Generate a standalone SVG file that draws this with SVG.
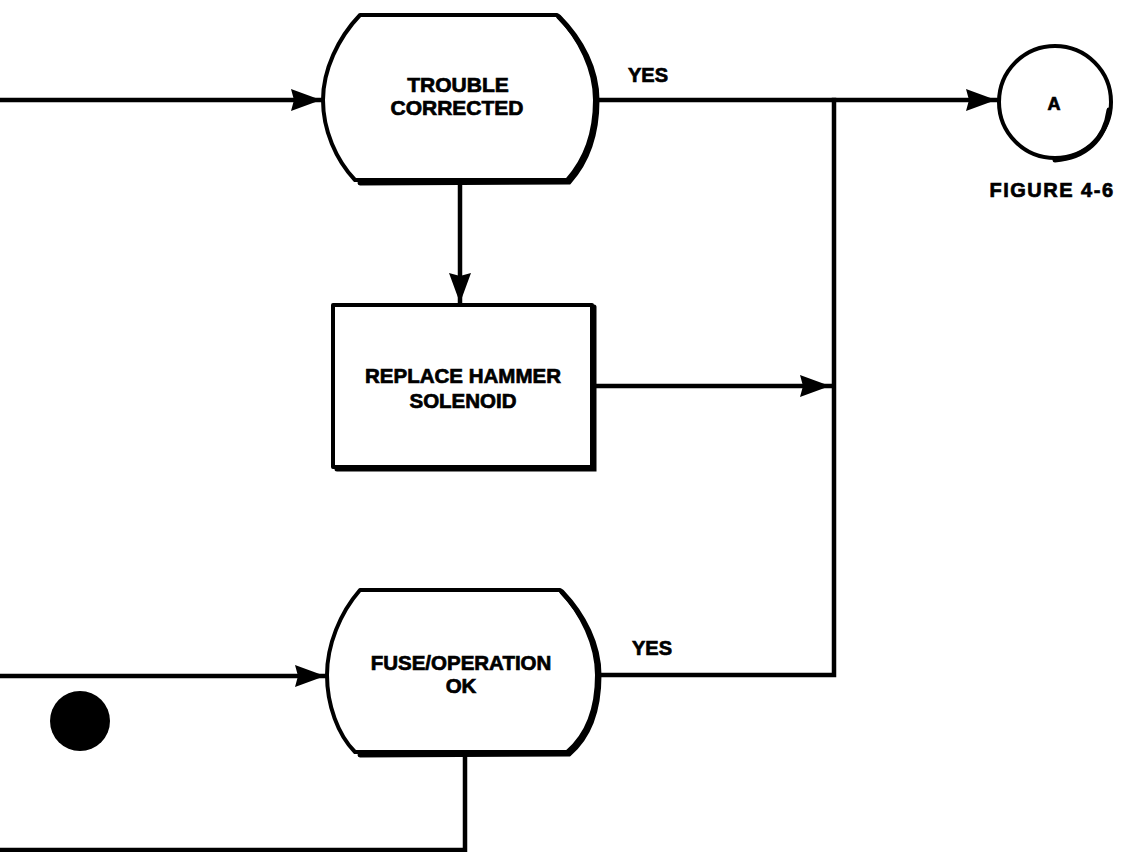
<svg xmlns="http://www.w3.org/2000/svg" width="1123" height="852" viewBox="0 0 1123 852">
<style>
.ln{fill:none;stroke:#000;stroke-width:4.5;stroke-linecap:square}
.shp{fill:#fff;stroke:#000;stroke-width:4;stroke-linejoin:round}
.shd{fill:none;stroke:#000;stroke-width:5;stroke-linecap:round}
.t{font-family:"Liberation Sans",Arial,sans-serif;font-weight:bold;fill:#000;stroke:#000;stroke-width:0.7;text-anchor:middle}
</style>
<defs>
<marker id="ah" markerUnits="userSpaceOnUse" markerWidth="32" markerHeight="24" refX="30" refY="11" orient="auto">
<path d="M0,0 L30,11 L0,22 L3,11 Z" fill="#000"/>
</marker>
</defs>
<rect width="1123" height="852" fill="#fff"/>
<g id="connectors">
<line class="ln" x1="0" y1="100" x2="321" y2="100" marker-end="url(#ah)"/>
<line class="ln" x1="597" y1="100" x2="996" y2="100" marker-end="url(#ah)"/>
<line class="ln" x1="460" y1="184" x2="460" y2="303" marker-end="url(#ah)"/>
<line class="ln" x1="596" y1="386" x2="830" y2="386" marker-end="url(#ah)"/>
<polyline class="ln" points="834,100 834,675 600,675"/>
<line class="ln" x1="0" y1="676" x2="325" y2="676" marker-end="url(#ah)"/>
<polyline class="ln" points="0,850 465,850 465,755"/>
</g>
<g id="trouble">
<path class="shp" d="M360,15 L557,15 C580,38 595,70 595,100 C595,135 585,160 567,180 L355,180 C336,160 323,130 323,100 C323,70 338,38 360,15 Z"/>
<path class="shd" d="M559,17 C582,40 597,70 597,100 C597,135 587,162 569,182 L360,183"/>
<text class="t" x="458" y="92" font-size="21">TROUBLE</text>
<text class="t" x="457" y="115" font-size="21">CORRECTED</text>
</g>
<g id="replace">
<rect class="shp" x="333" y="305" width="259" height="162"/>
<path class="shd" d="M594,307 L594,469 L337,469"/>
<text class="t" x="463" y="383" font-size="20.5">REPLACE HAMMER</text>
<text class="t" x="463" y="408" font-size="20.5">SOLENOID</text>
</g>
<g id="fuse">
<path class="shp" d="M360,590 L560,590 C582,613 597,645 597,675 C597,710 587,735 567,752 L355,752 C338,735 327,705 327,675 C327,645 340,613 360,590 Z"/>
<path class="shd" d="M562,592 C584,615 599,645 599,675 C599,710 589,737 569,754 L360,755"/>
<text class="t" x="461" y="670" font-size="20.5">FUSE/OPERATION</text>
<text class="t" x="461" y="693" font-size="20.5">OK</text>
</g>
<g id="connA">
<circle cx="1055" cy="102" r="56" fill="#fff" stroke="#000" stroke-width="4"/>
<path class="shd" d="M1109,110 C1105,140 1085,158 1055,160"/>
<text class="t" x="1054" y="110" font-size="18">A</text>
<text class="t" x="1052" y="197" font-size="20" letter-spacing="1.5">FIGURE 4-6</text>
</g>
<g id="labels">
<text class="t" x="648" y="82" font-size="20">YES</text>
<text class="t" x="652" y="655" font-size="20">YES</text>
</g>
<g id="dot">
<circle cx="80" cy="721" r="30" fill="#000"/>
</g>
</svg>
